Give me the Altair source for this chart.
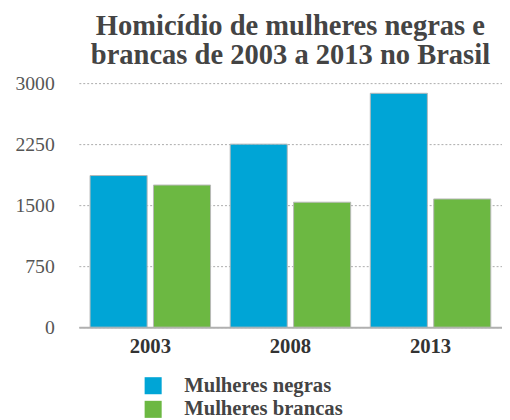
import altair as alt
import pandas as pd

years = ["2003", "2008", "2013"]
negras = [1864, 2250, 2875]
brancas = [1747, 1536, 1576]
series = ["Mulheres negras", "Mulheres brancas"]
colors = ["#00a5d6", "#6cb842"]
y_ticks = [0, 750, 1500, 2250, 3000]

rows = []
for i, yr in enumerate(years):
    rows.append({"ano": yr, "grupo": series[0], "valor": negras[i]})
    rows.append({"ano": yr, "grupo": series[1], "valor": brancas[i]})
df = pd.DataFrame(rows)

FONT = "Liberation Serif, Times New Roman, serif"

chart = alt.Chart(df).mark_bar(stroke="#b8b8b8", strokeWidth=1).encode(
    x=alt.X("ano:N", sort=years, title=None,
            scale=alt.Scale(paddingInner=0.14, paddingOuter=0.08),
            axis=alt.Axis(labelAngle=0, labelFont=FONT, labelFontSize=21,
                          labelFontWeight="bold", labelColor="#333",
                          ticks=False, labelPadding=9, domainColor="#b0b0b0",
                          domainWidth=2, grid=False)),
    xOffset=alt.XOffset("grupo:N", sort=series,
                        scale=alt.Scale(paddingInner=0.1, paddingOuter=0)),
    y=alt.Y("valor:Q", title=None,
            scale=alt.Scale(domain=[0, 3000], nice=False),
            axis=alt.Axis(values=y_ticks, format="d", labelFont=FONT,
                          labelFontSize=20, labelColor="#555", ticks=False,
                          domain=False, labelPadding=25, gridColor="#aaaaaa",
                          gridDash=[2, 2], gridWidth=1)),
    color=alt.Color("grupo:N", sort=series, title=None,
                    scale=alt.Scale(domain=series, range=colors),
                    legend=alt.Legend(orient="none", legendX=65, legendY=297,
                                      direction="vertical", symbolType="square",
                                      symbolSize=300, symbolStrokeWidth=0,
                                      labelFont=FONT, labelFontSize=21,
                                      labelFontWeight="bold", labelColor="#444",
                                      labelOffset=21, rowPadding=2,
                                      labelLimit=400)),
).properties(
    width=430,
    height=248,
    title=alt.TitleParams(
        text=["Homicídio de mulheres negras e", "brancas de 2003 a 2013 no Brasil"],
        font=FONT, fontSize=29, fontWeight="bold", color="#444",
        anchor="middle", lineHeight=30, offset=3),
    autosize=alt.AutoSizeParams(type="none"),
    padding={"left": 72, "top": 73, "right": 0, "bottom": 91},
).configure_view(stroke=None)

chart.save("out.html", embed_options={"renderer": "svg", "actions": False})
